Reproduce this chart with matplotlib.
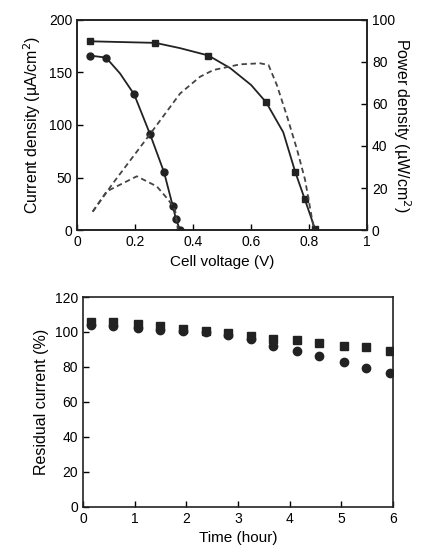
import matplotlib.pyplot as plt

plt.rcParams['font.family'] = ['Liberation Sans', 'DejaVu Sans']
plt.rcParams['font.size'] = 10

# polarization curves (top panel): measured points
v_sq = [0.045, 0.27, 0.453, 0.652, 0.752, 0.785, 0.82]
i_sq = [179.5, 178, 166, 121.5, 55.5, 29.5, 1.5]
v_ci = [0.043, 0.10, 0.197, 0.252, 0.30, 0.33, 0.341, 0.355]
i_ci = [166, 164, 129, 91, 55, 23, 10.6, 0]

# traced curve paths
v_sq_path = [0.045, 0.27, 0.355, 0.453, 0.528, 0.60, 0.652, 0.711, 0.752, 0.785, 0.82]
i_sq_path = [179.5, 178, 173, 166, 154, 138, 121.5, 93, 55.5, 29.5, 1.5]
v_ci_path = [0.043, 0.10, 0.148, 0.197, 0.252, 0.30, 0.33, 0.341, 0.355]
i_ci_path = [166, 164, 149, 129, 91, 55, 23, 10.6, 0]

# power density (dashed, right axis)
v_psq = [0.054, 0.125, 0.252, 0.355, 0.424, 0.47, 0.562, 0.631, 0.66, 0.689, 0.723, 0.758, 0.786, 0.815]
p_sq = [8.8, 22.5, 45.7, 64.9, 72.9, 76.1, 78.8, 79.3, 78.5, 68.9, 54.5, 38.5, 24, 1.6]
v_pci = [0.054, 0.102, 0.206, 0.275, 0.315, 0.338, 0.348]
p_ci = [8.8, 18.4, 25.6, 20.8, 14.4, 9.6, 0]

# stability test (bottom panel)
hours = [0.15, 0.59, 1.06, 1.49, 1.94, 2.38, 2.81, 3.25, 3.68, 4.15, 4.58, 5.05, 5.48, 5.95]
res_sq = [106, 105.7, 104.6, 103.4, 101.7, 100.6, 99.4, 97.9, 96, 95.4, 93.5, 92.2, 91.3, 89]
res_ci = [104, 103.4, 102.3, 101.1, 100.6, 100, 98.3, 96, 92.2, 89, 86.1, 82.7, 79.4, 76.6]

fig = plt.figure(figsize=(4.21, 5.48), dpi=100)

ax1 = fig.add_axes([0.183, 0.580, 0.689, 0.384])
ax1.plot(v_sq_path, i_sq_path, color='#222222', lw=1.3)
ax1.plot(v_ci_path, i_ci_path, color='#222222', lw=1.3)
ax1.plot(v_sq, i_sq, 's', color='#222222', ms=5)
ax1.plot(v_ci, i_ci, 'o', color='#222222', ms=5)
ax1.set_xlim(0, 1)
ax1.set_ylim(0, 200)
ax1.set_xticks([0, 0.2, 0.4, 0.6, 0.8, 1])
ax1.set_xticklabels(['0', '0.2', '0.4', '0.6', '0.8', '1'])
ax1.set_yticks([0, 50, 100, 150, 200])
ax1.set_xlabel('Cell voltage (V)', fontsize=11)
ax1.set_ylabel('Current density (\u00b5A/cm$^2$)', fontsize=11.5)
ax1.tick_params(direction='in', length=4, width=1)

ax2 = ax1.twinx()
ax2.plot(v_psq, p_sq, color='#444444', lw=1.3, ls=(0, (3, 2)))
ax2.plot(v_pci, p_ci, color='#444444', lw=1.3, ls=(0, (3, 2)))
ax2.set_ylim(0, 100)
ax2.set_yticks([0, 20, 40, 60, 80, 100])
ax2.set_ylabel('Power density (\u00b5W/cm$^2$)', fontsize=11.5, rotation=-90, labelpad=13)
ax2.tick_params(direction='in', length=4, width=1)

ax3 = fig.add_axes([0.197, 0.075, 0.736, 0.383])
ax3.plot(hours, res_ci, 'o', color='#222222', ms=6)
ax3.plot(hours, res_sq, 's', color='#222222', ms=6)
ax3.set_xlim(0, 6)
ax3.set_ylim(0, 120)
ax3.set_xticks(range(0, 7))
ax3.set_yticks(range(0, 121, 20))
ax3.set_xlabel('Time (hour)', fontsize=11)
ax3.set_ylabel('Residual current (%)', fontsize=11.5)
ax3.tick_params(direction='in', length=4, width=1)

for ax in (ax1, ax2, ax3):
    for s in ax.spines.values():
        s.set_linewidth(1.2)
        s.set_color('#222222')

plt.savefig('out.png', dpi=100)
